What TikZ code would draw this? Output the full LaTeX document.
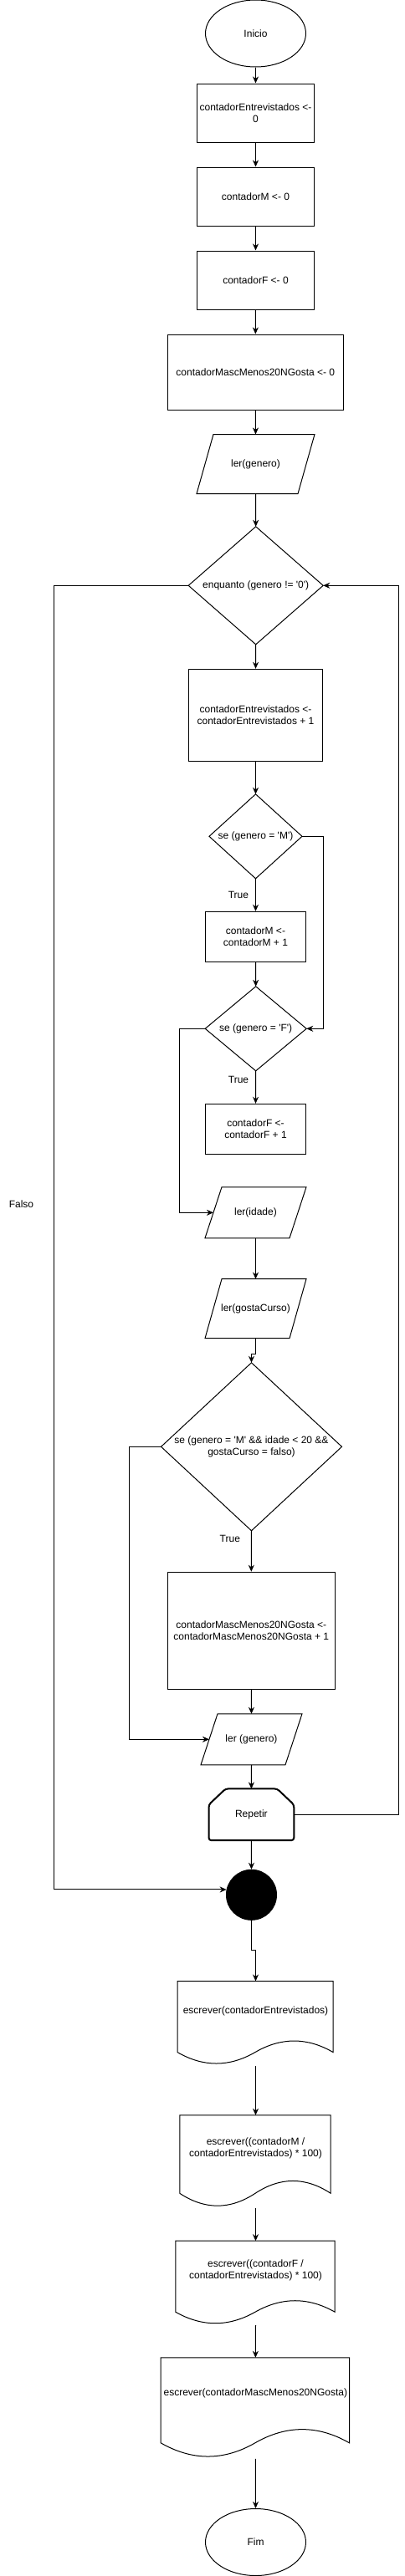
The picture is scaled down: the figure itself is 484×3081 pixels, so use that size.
\documentclass[tikz,border=0pt]{standalone}
\usepackage{fontspec}
\setmainfont{Liberation Sans}
\usetikzlibrary{shapes.geometric,arrows.meta,calc}
\newcommand{\q}{\textquotesingle}
\newcommand{\diamoutline}[1]{\draw (#1.north) -- (#1.east) -- (#1.south) -- (#1.west) -- cycle;}
\newcommand{\paraoutline}[1]{\draw ($(#1.north west)+(20,0)$) -- (#1.north east) -- ($(#1.south east)+(-20,0)$) -- (#1.south west) -- cycle;}
\newcommand{\docoutline}[3]{%
  \draw (#1.north west) -- ($(#1.north west)+(#2,0)$) -- ($(#1.north west)+(#2,{0.85*#3})$)
  .. controls ($(#1.north west)+({0.8333*#2},{0.67*#3})$) and ($(#1.north west)+({0.6667*#2},{0.67*#3})$) .. ($(#1.north west)+({0.5*#2},{0.85*#3})$)
  .. controls ($(#1.north west)+({0.3333*#2},{1.03*#3})$) and ($(#1.north west)+({0.1667*#2},{1.03*#3})$) .. ($(#1.north west)+(0,{0.85*#3})$) -- cycle;}
\begin{document}
\begin{tikzpicture}[x=1pt,y=-1pt,font=\fontsize{12}{14}\selectfont,line width=1pt,
  arr/.style={-{Stealth[length=8pt,width=7pt,inset=2.5pt]}},
  proc/.style={draw,rectangle,inner sep=0pt,align=center},
  term/.style={draw,ellipse,inner sep=0pt,minimum width=120pt,minimum height=80pt},
  frame/.style={rectangle,inner sep=0pt,align=center},
  lbl/.style={inner sep=0pt,align=center}]
\useasboundingbox (0,0) rectangle (484,3081);

% nodes
\node[term] (ini) at (305.5,40) {Inicio};
\node[proc,minimum width=140pt,minimum height=70pt] (b1) at (305.5,135) {contadorEntrevistados <-\\0};
\node[proc,minimum width=140pt,minimum height=70pt] (b2) at (305.5,235) {contadorM <- 0};
\node[proc,minimum width=140pt,minimum height=70pt] (b3) at (305.5,335) {contadorF <- 0};
\node[proc,minimum width=210pt,minimum height=90pt] (b4) at (305.3,445) {contadorMascMenos20NGosta <- 0};
\node[frame,minimum width=140pt,minimum height=70pt] (lg1) at (305.5,555) {ler(genero)};
\paraoutline{lg1}
\node[frame,minimum width=160pt,minimum height=140pt] (wh) at (305.7,700.3) {enquanto (genero != \q0\q)};
\diamoutline{wh}
\node[proc,minimum width=160pt,minimum height=110pt] (b5) at (305.5,855.3) {contadorEntrevistados <-\\contadorEntrevistados + 1};
\node[frame,minimum width=110pt,minimum height=100pt] (dM) at (305.5,1000.3) {se (genero = \q M\q)};
\diamoutline{dM}
\node[proc,minimum width=120pt,minimum height=60pt] (bM) at (305.5,1120.3) {contadorM <-\\contadorM + 1};
\node[frame,minimum width=120pt,minimum height=100pt] (dF) at (305.7,1230.3) {se (genero = \q F\q)};
\diamoutline{dF}
\node[proc,minimum width=120pt,minimum height=60pt] (bF) at (305.5,1350.3) {contadorF <-\\contadorF + 1};
\node[frame,minimum width=120pt,minimum height=60pt] (li) at (305.5,1450.3) {ler(idade)};
\paraoutline{li}
\node[frame,minimum width=120pt,minimum height=70pt] (lgc) at (305.5,1565.2) {ler(gostaCurso)};
\paraoutline{lgc}
\node[frame,minimum width=215pt,minimum height=200pt] (dC) at (300.5,1730.3) {se (genero = \q M\q{} \&\& idade < 20 \&\&\\gostaCurso = falso)};
\diamoutline{dC}
\node[proc,minimum width=200pt,minimum height=140pt] (bC) at (300.3,1950.2) {contadorMascMenos20NGosta <-\\contadorMascMenos20NGosta + 1};
\node[frame,minimum width=120pt,minimum height=60pt] (lg2) at (300.5,2080.3) {ler (genero)};
\paraoutline{lg2}
\node[frame,minimum width=100.7pt,minimum height=60.7pt] (rep) at (300.4,2170.3) {Repetir};
\draw[line width=2pt,rounded corners=3pt] ($(rep.north west)+(0,19)$) -- ($(rep.north west)+(20,0)$) -- ($(rep.north east)+(-20,0)$) -- ($(rep.north east)+(0,19)$) -- (rep.south east) -- (rep.south west) -- cycle;
\node[circle,draw,fill=black,minimum size=60pt,inner sep=0pt] (circ) at (300.5,2266.3) {};
\node[frame,minimum width=186pt,minimum height=100pt] (d1) at (305.5,2420) {};
\docoutline{d1}{186}{100}
\node[lbl] (t1) at ($(d1.north)+(0,36)$) {escrever(contadorEntrevistados)};
\node[frame,minimum width=180.4pt,minimum height=110pt] (d2) at (305.5,2585.3) {};
\docoutline{d2}{180.4}{110}
\node[lbl] (t2) at ($(d2.north)+(0,40)$) {escrever((contadorM /\\contadorEntrevistados) * 100)};
\node[frame,minimum width=190.4pt,minimum height=100pt] (d3) at (305.5,2730.7) {};
\docoutline{d3}{190.4}{100}
\node[lbl] (t3) at ($(d3.north)+(0,35.3)$) {escrever((contadorF /\\contadorEntrevistados) * 100)};
\node[frame,minimum width=225.3pt,minimum height=120pt] (d4) at (305.35,2880.3) {};
\docoutline{d4}{225.3}{120}
\node[lbl] (t4) at ($(d4.north)+(0,42.7)$) {escrever(contadorMascMenos20NGosta)};
\node[term] (fim) at (305.5,3040.5) {Fim};
\node[lbl] (falso) at (25.5,1440.3) {Falso};

% connectors
\draw[arr] (ini.south) -- (b1.north);
\draw[arr] (b1.south) -- (b2.north);
\draw[arr] (b2.south) -- (b3.north);
\draw[arr] (b3.south) -- (b4.north);
\draw[arr] (b4.south) -- (lg1.north);
\draw[arr] (lg1.south) -- (wh.north);
\draw[arr] (wh.south) -- (b5.north);
\draw[arr] (b5.south) -- (dM.north);
\draw[arr] (dM.south) -- node[lbl,left=8pt,pos=0.5] (tr1) {True} (bM.north);
\draw[arr] (dM.east) -- ++(25.2,0) |- (dF.east);
\draw[arr] (bM.south) -- (dF.north);
\draw[arr] (dF.south) -- node[lbl,left=8pt,pos=0.26] (tr2) {True} (bF.north);
\draw[arr] (dF.west) -- ++(-30.4,0) |- ($(li.west)+(10,0)$);
\draw[arr] (li.south) -- (lgc.north);
\draw[arr] (lgc.south) |- ($(dC.north)+(0,-10)$) -- (dC.north);
\draw[arr] (dC.south) -- node[lbl,left=13pt,pos=0.2] (tr3) {True} (bC.north);
\draw[arr] (dC.west) -- ++(-37.7,0) |- ($(lg2.west)+(10,0)$);
\draw[arr] (bC.south) -- (lg2.north);
\draw[arr] (lg2.south) -- (rep.north);
\draw[arr] (rep.east) -- ++(125.3,0) |- (wh.east);
\draw[arr] (rep.south) -- (circ.north);
\draw[arr] (wh.west) -- ++(-160.4,0) |- (circ.168);
\draw[arr] (circ.south) |- ($(d1.north)+(0,-36.7)$) -- (d1.north);
\draw[arr] (d1.south) -- (d2.north);
\draw[arr] (d2.south) -- (d3.north);
\draw[arr] (d3.south) -- (d4.north);
\draw[arr] (d4.south) -- (fim.north);
\end{tikzpicture}
\end{document}
